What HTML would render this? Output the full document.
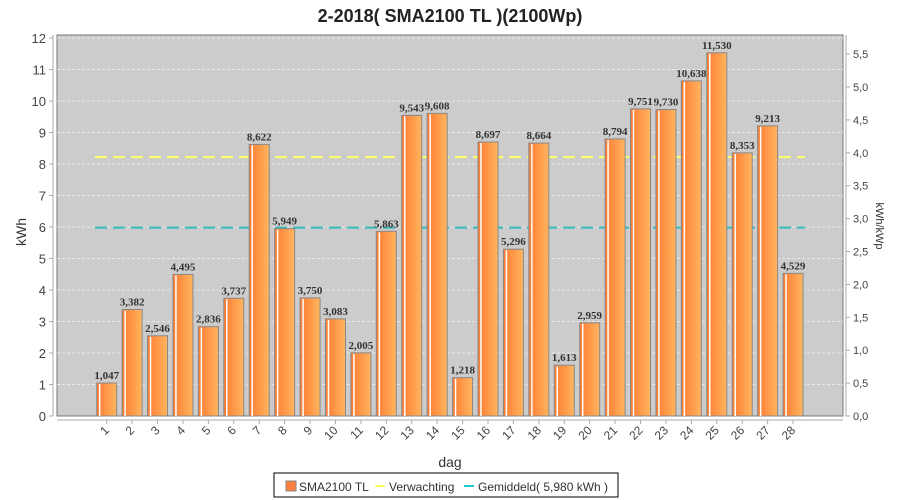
<!DOCTYPE html><html><head><style>body{margin:0;background:#fff}svg{display:block}</style></head><body>
<svg width="900" height="500" xmlns="http://www.w3.org/2000/svg" font-family="Liberation Sans, sans-serif">
<defs><linearGradient id="g" x1="0" x2="1"><stop offset="0" stop-color="#ff7a30"/><stop offset="1" stop-color="#ffb660"/></linearGradient></defs>
<text x="450" y="22" text-anchor="middle" font-size="18" font-weight="bold" fill="#222">2-2018( SMA2100 TL )(2100Wp)</text>
<rect x="57" y="35" width="786" height="381" fill="#cccccc" stroke="#777"/>
<g stroke="#e8e8e8" stroke-dasharray="3,2" stroke-width="1" id="grid"></g>
<g id="main"></g>
<line x1="53" y1="35" x2="53" y2="416" stroke="#aaa"/>
<line x1="846" y1="35" x2="846" y2="416" stroke="#aaa"/>
<line x1="57" y1="420" x2="843" y2="420" stroke="#aaa"/>
<text transform="translate(26,232) rotate(-90)" text-anchor="middle" font-size="14" fill="#333">kWh</text>
<text transform="translate(876,226) rotate(90)" text-anchor="middle" font-size="11" fill="#333">kWh/kWp</text>
<text x="450" y="467" text-anchor="middle" font-size="14" fill="#333">dag</text>
<rect x="274" y="473" width="344" height="24" fill="#fff" stroke="#000"/>
<rect x="286" y="481" width="10" height="10" fill="#ff8040" stroke="#888"/>
<text x="299" y="491" font-size="12" fill="#333">SMA2100 TL</text>
<line x1="375" y1="486" x2="385" y2="486" stroke="#ffff66" stroke-width="2"/>
<text x="389" y="491" font-size="12" fill="#333">Verwachting</text>
<line x1="464" y1="486" x2="474" y2="486" stroke="#22cccc" stroke-width="2"/>
<text x="478" y="491" font-size="12" fill="#333">Gemiddeld( 5,980 kWh )</text>
</svg>
<script>
const d=[1.047,3.382,2.546,4.495,2.836,3.737,8.622,5.949,3.750,3.083,2.005,5.863,9.543,9.608,1.218,8.697,5.296,8.664,1.613,2.959,8.794,9.751,9.730,10.638,11.530,8.353,9.213,4.529];
const ns="http://www.w3.org/2000/svg",svg=document.querySelector('svg'),m=document.getElementById('main');
function el(t,a,p,txt){const e=document.createElementNS(ns,t);for(const k in a)e.setAttribute(k,a[k]);if(txt!==undefined)e.textContent=txt;(p||m).appendChild(e);return e;}
const Y=v=>416-v*31.5;
for(let i=0;i<=12;i++){const y=Y(i);if(i>0&&i<12)el('line',{x1:57,x2:843,y1:y,y2:y,stroke:'#e8e8e8','stroke-dasharray':'3,2'});if(i==12)el('line',{x1:57,x2:843,y1:y,y2:y,stroke:'#e8e8e8','stroke-dasharray':'3,2'});
el('line',{x1:49,x2:53,y1:y,y2:y,stroke:'#aaa'},svg);el('text',{x:46,y:y+5,'text-anchor':'end','font-size':13,fill:'#444'},svg,i);}
for(let i=0;i<=11;i++){const v=i*0.5,y=416-v*65.8;el('line',{x1:846,x2:850,y1:y,y2:y,stroke:'#aaa'},svg);el('text',{x:853,y:y+4,'font-size':11,fill:'#444'},svg,v.toFixed(1).replace('.',','));}
el('line',{x1:95,x2:805,y1:Y(8.22),y2:Y(8.22),stroke:'#ffff66','stroke-width':2,'stroke-dasharray':'12,6'});
el('line',{x1:95,x2:805,y1:Y(5.98),y2:Y(5.98),stroke:'#33bbbb','stroke-width':2,'stroke-dasharray':'12,6'});
d.forEach((v,i)=>{const c=106.7+i*25.42,x=c-10,y=Y(v);
el('rect',{x:x,y:y,width:20,height:416-y,fill:'url(#g)',stroke:'#888'});
el('line',{x1:x+3,x2:x+3,y1:y+1,y2:416,stroke:'#fff','stroke-width':1.5});
el('text',{x:c,y:y-4,'text-anchor':'middle','font-size':11,'font-weight':'bold','font-family':'Liberation Serif, serif',fill:'#333'},m,v.toFixed(3).replace('.',','));
el('line',{x1:c,x2:c,y1:420,y2:424,stroke:'#aaa'},svg);
el('text',{transform:`translate(${c+3},${431}) rotate(-45)`,'text-anchor':'end','font-size':12,fill:'#444'},svg,i+1);});
</script>
</body></html>
